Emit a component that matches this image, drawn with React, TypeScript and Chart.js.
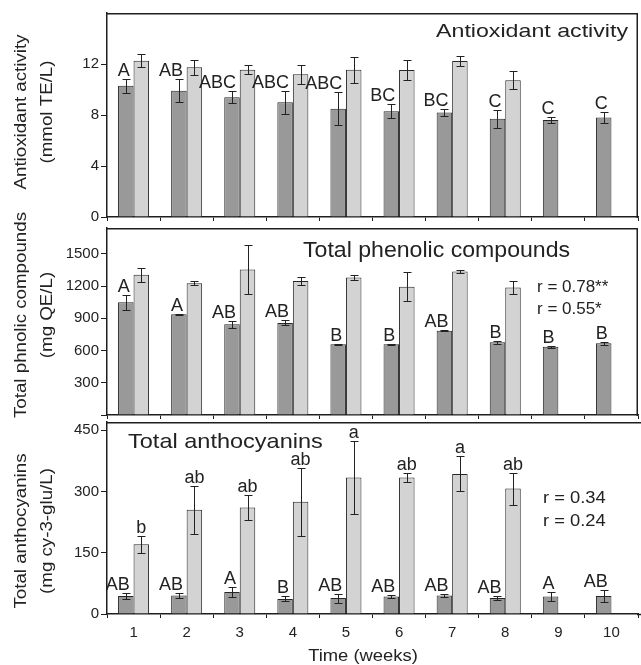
import React, { useEffect, useRef } from 'react';
import { Chart, registerables } from 'chart.js';

Chart.register(...registerables);

const weeks = ['1', '2', '3', '4', '5', '6', '7', '8', '9', '10'];

const antioxDark = [10.3, 9.9, 9.4, 9.0, 8.5, 8.3, 8.2, 7.7, 7.6, 7.8];
const antioxDarkErr = [0.55, 0.89, 0.45, 0.9, 1.3, 0.56, 0.27, 0.7, 0.26, 0.4];
const antioxLight = [12.26, 11.74, 11.55, 11.19, 11.55, 11.53, 12.24, 10.72, null, null];
const antioxLightErr = [0.52, 0.57, 0.37, 0.73, 1.03, 0.82, 0.36, 0.7, null, null];
const antioxLetters = ['A', 'AB', 'ABC', 'ABC', 'ABC', 'BC', 'BC', 'C', 'C', 'C'];
const antioxTicks = [0, 4, 8, 12];

const phenolDark = [1050, 938, 845, 857, 658, 658, 785, 677, 634, 668];
const phenolDarkErr = [71, 6, 32, 24, 5, 5, 4, 12, 12, 13];
const phenolLight = [1304, 1227, 1354, 1246, 1279, 1193, 1335, 1186, null, null];
const phenolLightErr = [68, 18, 231, 39, 27, 133, 12, 57, null, null];
const phenolLetters = ['A', 'A', 'AB', 'AB', 'B', 'B', 'AB', 'B', 'B', 'B'];
const phenolTicks = [0, 300, 600, 900, 1200, 1500];
const phenolR = ['r = 0.78**', 'r = 0.55*'];

const anthoDark = [44, 45, 54, 37, 39, 43, 45, 39, 43, 44];
const anthoDarkErr = [7, 7, 13, 6, 11, 4, 3, 4, 11, 15];
const anthoLight = [171, 255, 261, 275, 334, 334, 343, 307, null, null];
const anthoLightErr = [21, 59, 30, 83, 90, 11, 43, 39, null, null];
const anthoLetters = ['AB', 'AB', 'A', 'B', 'AB', 'AB', 'AB', 'AB', 'A', 'AB'];
const anthoLightLetters = ['b', 'ab', 'ab', 'ab', 'a', 'ab', 'a', 'ab', '', ''];
const anthoTicks = [0, 150, 300, 450];
const anthoR = ['r = 0.34', 'r = 0.24'];

const FONT = '"Liberation Sans", Arial, Helvetica, sans-serif';
const INK = '#222222';
const LINE = '#1e1e1e';
const W = 641;
const H = 665;

function txt(
  ctx: CanvasRenderingContext2D,
  s: string,
  x: number,
  y: number,
  size: number,
  align: CanvasTextAlign = 'left',
  sx = 1,
  rotate = false,
  baseline: CanvasTextBaseline = 'alphabetic'
) {
  ctx.save();
  ctx.font = `${size}px ${FONT}`;
  ctx.fillStyle = INK;
  ctx.textAlign = align;
  ctx.textBaseline = baseline;
  ctx.translate(x, y);
  if (rotate) ctx.rotate(-Math.PI / 2);
  ctx.scale(sx, 1);
  ctx.fillText(s, 0, 0);
  ctx.restore();
}

type Panel = {
  dark: (number | null)[];
  darkErr: (number | null)[];
  light: (number | null)[];
  lightErr: (number | null)[];
  letters: string[];
  lightLetters?: string[];
  ticks: number[];
  max: number;
  hideZero: boolean;
  top: number;
  bottom: number;
  xh: number;
  showX: boolean;
  yTitle: string[];
  yTitleY: number;
  title: { text: string; x: number; y: number; size: number; sx: number; align: CanvasTextAlign };
  rText?: string[];
  rPos?: { x: number; y1: number; y2: number; size: number; sx: number };
  extendRight: boolean;
  xTitle?: boolean;
};

function buildChart(canvas: HTMLCanvasElement, p: Panel) {
  const decor = {
    id: 'decor',
    afterDatasetsDraw(chart: any) {
      const ctx: CanvasRenderingContext2D = chart.ctx;
      const ys = chart.scales.y;
      const sets = [
        { vals: p.dark, errs: p.darkErr },
        { vals: p.light, errs: p.lightErr },
      ];
      ctx.save();
      ctx.strokeStyle = INK;
      ctx.lineWidth = 1;
      sets.forEach((s, di) => {
        const meta = chart.getDatasetMeta(di);
        s.vals.forEach((v, j) => {
          const e = s.errs[j];
          if (v == null || e == null) return;
          const el = meta.data[j];
          const x = Math.round(el.x) + 0.5;
          const yt = Math.round(ys.getPixelForValue(v + e)) + 0.5;
          const yb = Math.round(ys.getPixelForValue(v - e)) + 0.5;
          ctx.beginPath();
          ctx.moveTo(x, yt);
          ctx.lineTo(x, yb);
          ctx.moveTo(x - 4, yt);
          ctx.lineTo(x + 4, yt);
          ctx.moveTo(x - 4, yb);
          ctx.lineTo(x + 4, yb);
          ctx.stroke();
        });
      });
      ctx.restore();
      const m0 = chart.getDatasetMeta(0);
      p.dark.forEach((v, j) => {
        if (v == null) return;
        const e = p.darkErr[j] || 0;
        const el = m0.data[j];
        const y = ys.getPixelForValue(v + e) - 3;
        txt(ctx, p.letters[j], el.x + 4, y, 18, 'right');
      });
      if (p.lightLetters) {
        const m1 = chart.getDatasetMeta(1);
        p.light.forEach((v, j) => {
          if (v == null || !p.lightLetters![j]) return;
          const e = p.lightErr[j] || 0;
          const el = m1.data[j];
          const y = ys.getPixelForValue(v + e) - 3;
          txt(ctx, p.lightLetters![j], el.x, y, 18, 'center');
        });
      }
    },
    afterDraw(chart: any) {
      const ctx: CanvasRenderingContext2D = chart.ctx;
      const { left, right, top, bottom } = chart.chartArea;
      ctx.save();
      ctx.strokeStyle = LINE;
      ctx.lineWidth = 1.5;
      ctx.beginPath();
      ctx.moveTo(left - 0.5, top + 0.75);
      ctx.lineTo(p.extendRight ? W : right, top + 0.75);
      if (!p.extendRight) {
        ctx.moveTo(right - 0.75, top);
        ctx.lineTo(right - 0.75, bottom + 1);
      } else {
        ctx.moveTo(right - 1, bottom + 0.5);
        ctx.lineTo(W, bottom + 0.5);
      }
      ctx.stroke();
      ctx.restore();
      txt(ctx, p.yTitle[0], 22, p.yTitleY, 16, 'center', 1.17, true, 'middle');
      txt(ctx, p.yTitle[1], 48, p.yTitleY, 16, 'center', 1.17, true, 'middle');
      const t = p.title;
      txt(ctx, t.text, t.x, t.y, t.size, t.align, t.sx);
      if (p.rText && p.rPos) {
        txt(ctx, p.rText[0], p.rPos.x, p.rPos.y1, p.rPos.size, 'left', p.rPos.sx);
        txt(ctx, p.rText[1], p.rPos.x, p.rPos.y2, p.rPos.size, 'left', p.rPos.sx);
      }
      if (p.xTitle) {
        txt(ctx, 'Time (weeks)', 363, 661, 16, 'center', 1.15);
      }
    },
  };

  return new Chart(canvas, {
    type: 'bar',
    data: {
      labels: weeks,
      datasets: [
        {
          data: p.dark as any,
          backgroundColor: '#999999',
          borderColor: '#262626',
          borderWidth: 1,
          barPercentage: 1,
          categoryPercentage: 0.584,
        },
        {
          data: p.light as any,
          backgroundColor: '#d3d3d3',
          borderColor: '#262626',
          borderWidth: 1,
          barPercentage: 1,
          categoryPercentage: 0.584,
        },
      ],
    },
    options: {
      responsive: false,
      animation: false,
      events: [],
      layout: { padding: { left: 0, right: 3, top: p.top, bottom: H - p.bottom - p.xh } },
      plugins: { legend: { display: false }, tooltip: { enabled: false }, title: { display: false } },
      scales: {
        x: {
          type: 'category',
          offset: true,
          grid: { offset: true, drawOnChartArea: false, drawTicks: true, tickLength: 4, color: LINE },
          border: { display: true, color: LINE, width: 1.5 },
          ticks: { display: p.showX, font: { size: 15, family: FONT }, color: INK, padding: 6, maxRotation: 0 },
          afterFit: (s: any) => {
            s.height = p.xh;
          },
        },
        y: {
          type: 'linear',
          min: 0,
          max: p.max,
          grid: { drawOnChartArea: false, drawTicks: true, tickLength: 6, color: LINE },
          border: { display: true, color: LINE, width: 1.5 },
          ticks: {
            font: { size: 15, family: FONT },
            color: INK,
            padding: 2,
            callback: (v: any) => (p.hideZero && Number(v) === 0 ? '' : String(v)),
          },
          afterBuildTicks: (s: any) => {
            s.ticks = p.ticks.map((v) => ({ value: v }));
          },
          afterFit: (s: any) => {
            s.width = 107;
          },
        },
      },
    } as any,
    plugins: [decor],
  });
}

const panels: Panel[] = [
  {
    dark: antioxDark,
    darkErr: antioxDarkErr,
    light: antioxLight,
    lightErr: antioxLightErr,
    letters: antioxLetters,
    ticks: antioxTicks,
    max: 16,
    hideZero: false,
    top: 13,
    bottom: 217,
    xh: 6,
    showX: false,
    yTitle: ['Antioxidant activity', '(mmol TE/L)'],
    yTitleY: 112,
    title: { text: 'Antioxidant activity', x: 628, y: 37, size: 19, sx: 1.22, align: 'right' },
    extendRight: false,
  },
  {
    dark: phenolDark,
    darkErr: phenolDarkErr,
    light: phenolLight,
    lightErr: phenolLightErr,
    letters: phenolLetters,
    ticks: phenolTicks,
    max: 1740,
    hideZero: true,
    top: 228,
    bottom: 415,
    xh: 6,
    showX: false,
    yTitle: ['Total phnolic compounds', '(mg QE/L)'],
    yTitleY: 315,
    title: { text: 'Total phenolic compounds', x: 303, y: 257, size: 22, sx: 1.05, align: 'left' },
    rText: phenolR,
    rPos: { x: 537, y1: 292, y2: 314, size: 17, sx: 1.0 },
    extendRight: false,
  },
  {
    dark: anthoDark,
    darkErr: anthoDarkErr,
    light: anthoLight,
    lightErr: anthoLightErr,
    letters: anthoLetters,
    lightLetters: anthoLightLetters,
    ticks: anthoTicks,
    max: 470,
    hideZero: false,
    top: 422,
    bottom: 614,
    xh: 51,
    showX: true,
    yTitle: ['Total anthocyanins', '(mg cy-3-glu/L)'],
    yTitleY: 531,
    title: { text: 'Total anthocyanins', x: 128, y: 448, size: 21, sx: 1.12, align: 'left' },
    rText: anthoR,
    rPos: { x: 543, y1: 503, y2: 526, size: 17, sx: 1.08 },
    extendRight: true,
    xTitle: true,
  },
];

export default function App() {
  const r0 = useRef<HTMLCanvasElement>(null);
  const r1 = useRef<HTMLCanvasElement>(null);
  const r2 = useRef<HTMLCanvasElement>(null);

  useEffect(() => {
    const refs = [r0, r1, r2];
    const charts = refs.map((r, i) => buildChart(r.current as HTMLCanvasElement, panels[i]));
    return () => charts.forEach((c) => c.destroy());
  }, []);

  const cs: React.CSSProperties = { position: 'absolute', left: 0, top: 0 };
  return (
    <div style={{ position: 'absolute', left: 0, top: 0, width: W, height: H, background: '#fff' }}>
      <canvas ref={r0} width={W} height={H} style={cs} />
      <canvas ref={r1} width={W} height={H} style={cs} />
      <canvas ref={r2} width={W} height={H} style={cs} />
    </div>
  );
}
